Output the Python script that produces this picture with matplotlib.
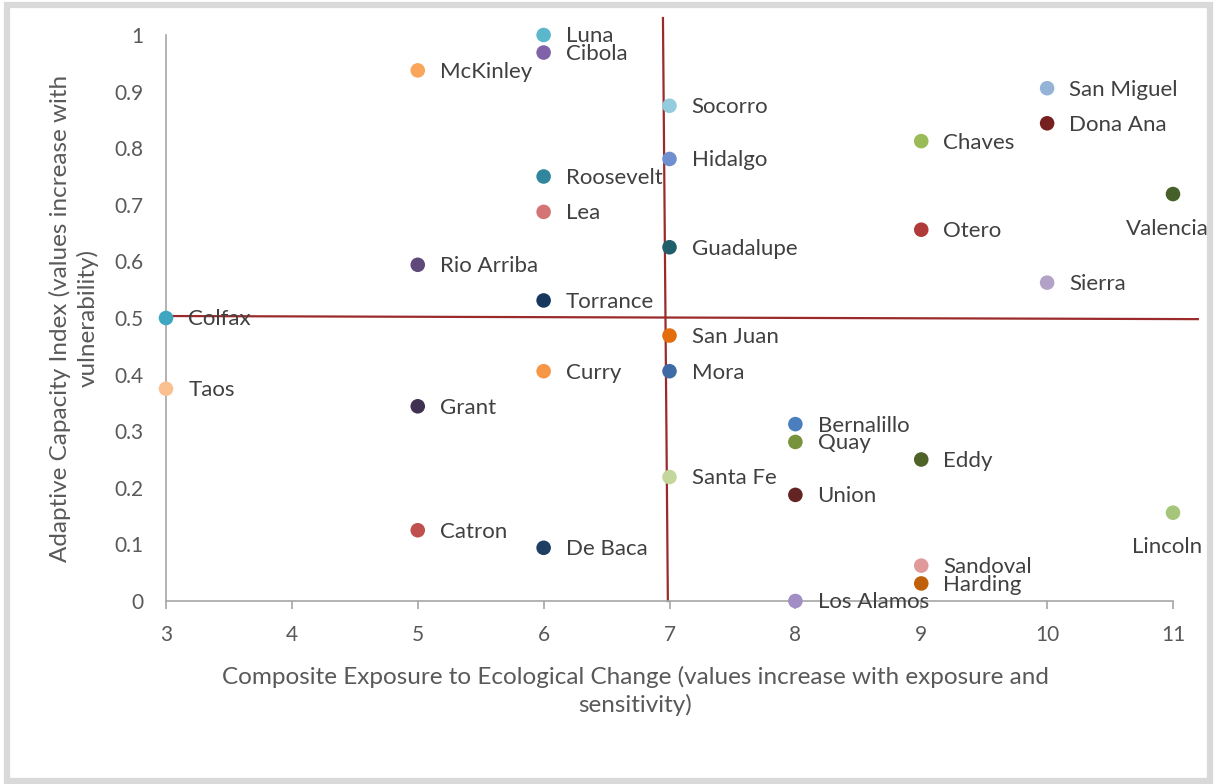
import matplotlib
matplotlib.use("Agg")
import matplotlib.pyplot as plt
from matplotlib.patches import Rectangle

counties = ["Luna", "Cibola", "McKinley", "Socorro", "Hidalgo", "Roosevelt", "Lea",
            "Guadalupe", "Rio Arriba", "Torrance", "Colfax", "San Juan", "Curry", "Mora",
            "Taos", "Grant", "Bernalillo", "Quay", "Eddy", "Santa Fe", "Union", "Lincoln",
            "Catron", "De Baca", "Sandoval", "Harding", "Los Alamos", "San Miguel",
            "Dona Ana", "Chaves", "Valencia", "Otero", "Sierra"]
exposure = [6, 6, 5, 7, 7, 6, 6, 7, 5, 6, 3, 7, 6, 7, 3, 5, 8, 8, 9, 7, 8, 11,
            5, 6, 9, 9, 8, 10, 10, 9, 11, 9, 10]
capacity = [1.0, 0.969, 0.9375, 0.875, 0.781, 0.75, 0.6875, 0.625, 0.594, 0.531,
            0.5, 0.469, 0.406, 0.406, 0.375, 0.344, 0.3125, 0.281, 0.25, 0.219,
            0.1875, 0.156, 0.125, 0.094, 0.0625, 0.031, 0.0, 0.906, 0.844, 0.8125,
            0.719, 0.656, 0.5625]
colors = ["#5bb8cc", "#8062a8", "#f9a65a", "#93cddd", "#6f8fcf", "#31859c", "#d47474",
          "#215e6c", "#5f497a", "#17375e", "#3ea6c0", "#e46c0a", "#f79646", "#3e6ba6",
          "#fac090", "#403152", "#4a7ebf", "#77933c", "#4f6228", "#c3d69b", "#632423",
          "#a5c67a", "#c0504d", "#1f3e64", "#e09a9a", "#c0600a", "#a28dc4", "#95b3d7",
          "#772020", "#9bbb59", "#46602a", "#b03a3a", "#b3a2c7"]
below_labels = ["Valencia", "Lincoln"]

x_ticks = [3, 4, 5, 6, 7, 8, 9, 10, 11]
y_ticks = [0, 0.1, 0.2, 0.3, 0.4, 0.5, 0.6, 0.7, 0.8, 0.9, 1]
y_ticklabels = ["0", "0.1", "0.2", "0.3", "0.4", "0.5", "0.6", "0.7", "0.8", "0.9", "1"]

plt.rcParams['font.family'] = ['Lato', 'DejaVu Sans']

W, H = 1214, 784
fig = plt.figure(figsize=(W / 100, H / 100), dpi=100)
fig.patch.set_facecolor("white")

# outer frame
fig.patches.append(Rectangle((6.5 / W, 3.5 / H), (W - 11) / W, (H - 8) / H,
                             transform=fig.transFigure, fill=False,
                             edgecolor="#d9d9d9", linewidth=4.5))

ax = fig.add_axes([166 / W, 1 - 601 / H, (1173 - 166) / W, (601 - 35) / H])
ax.set_xlim(3, 11)
ax.set_ylim(0, 1)

for s in ["top", "right"]:
    ax.spines[s].set_visible(False)
for s in ["left", "bottom"]:
    ax.spines[s].set_color("#a6a6a6")
    ax.spines[s].set_linewidth(1.2)

ax.set_xticks(x_ticks)
ax.set_xticklabels([str(v) for v in x_ticks])
ax.set_yticks(y_ticks)
ax.set_yticklabels(y_ticklabels)
ax.tick_params(axis="x", direction="out", length=6, width=1.2, color="#a6a6a6",
               labelsize=15, labelcolor="#595959", pad=11)
ax.tick_params(axis="y", length=0, labelsize=15, labelcolor="#595959", pad=16)
for t in ax.get_yticklabels():
    t.set_horizontalalignment("right")

# quadrant lines
ax.plot([3, 11.197], [0.5035, 0.498], color="#9b2a2a", lw=1.6, clip_on=False, zorder=2)
ax.plot([6.948, 6.987], [1.03, 0.0], color="#9b2a2a", lw=1.6, clip_on=False, zorder=2)

ax.scatter(exposure, capacity, s=110, c=colors, zorder=3, clip_on=False, linewidths=0)

for name, xv, yv in zip(counties, exposure, capacity):
    if name in below_labels:
        ax.annotate(name, (xv, yv), xytext=(-4, -25), textcoords="offset points",
                    ha="center", va="center", fontsize=16, color="#404040", zorder=4)
    else:
        ax.annotate(name, (xv, yv), xytext=(16, -1), textcoords="offset points",
                    ha="left", va="center", fontsize=16, color="#404040", zorder=4)

fig.text(635 / W, 1 - 691 / H,
         "Composite Exposure to Ecological Change (values increase with exposure and\nsensitivity)",
         ha="center", va="center", fontsize=17.5, color="#595959", linespacing=1.32)
fig.text(74 / W, 1 - 318 / H,
         "Adaptive Capacity Index (values increase with\nvulnerability)",
         ha="center", va="center", rotation=90, fontsize=17.5, color="#595959", linespacing=1.32)

fig.savefig("out.png", dpi=100)
